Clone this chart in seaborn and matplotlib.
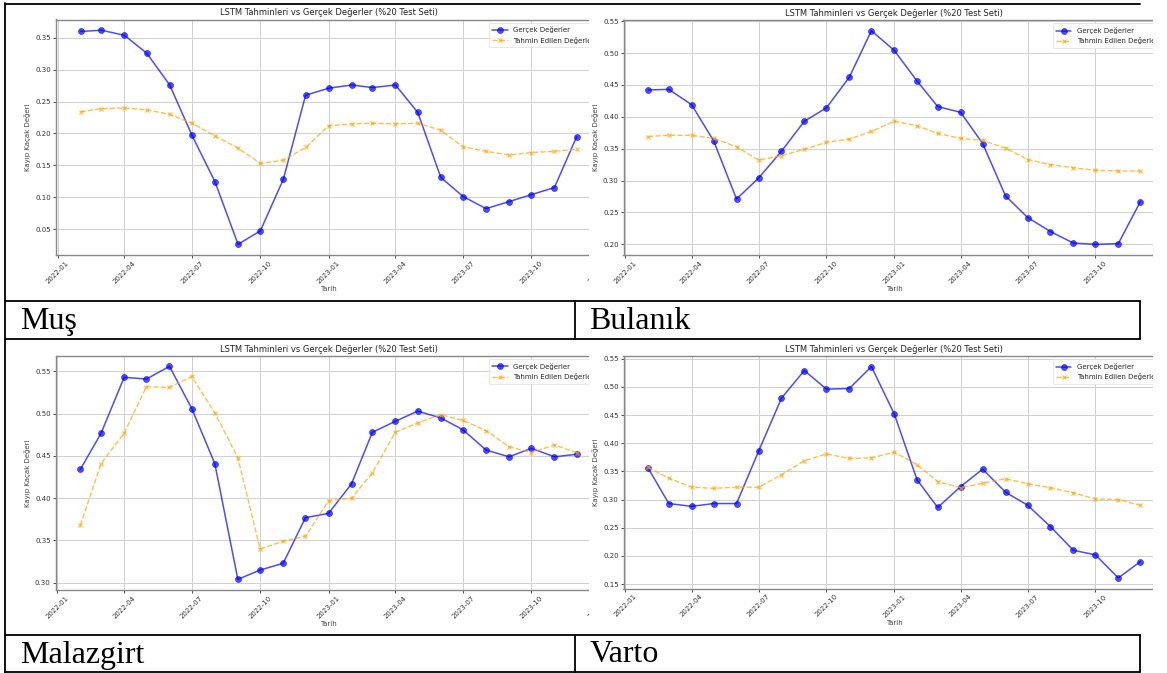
import pandas as pd
import matplotlib
matplotlib.use("Agg")
import matplotlib.pyplot as plt
import matplotlib.dates as mdates
from matplotlib.patches import Rectangle
from matplotlib.lines import Line2D
import seaborn as sns

# ---- veriler ----
tarihler = pd.date_range("2022-02-01", "2023-12-01", freq="MS")

mus_gercek = [0.360, 0.362, 0.354, 0.326, 0.276, 0.197, 0.124, 0.026, 0.047, 0.128, 0.260, 0.271,
              0.276, 0.272, 0.276, 0.233, 0.131, 0.101, 0.082, 0.093, 0.104, 0.115, 0.195]
mus_tahmin = [0.234, 0.239, 0.240, 0.237, 0.230, 0.216, 0.196, 0.177, 0.153, 0.158, 0.178, 0.212,
              0.215, 0.216, 0.215, 0.216, 0.205, 0.179, 0.172, 0.166, 0.170, 0.172, 0.175]

bulanik_gercek = [0.442, 0.443, 0.419, 0.362, 0.271, 0.304, 0.346, 0.393, 0.414, 0.462, 0.535, 0.504,
                  0.456, 0.416, 0.407, 0.358, 0.276, 0.242, 0.220, 0.202, 0.200, 0.201, 0.267]
bulanik_tahmin = [0.369, 0.371, 0.371, 0.366, 0.353, 0.332, 0.339, 0.349, 0.360, 0.365, 0.377, 0.393,
                  0.386, 0.374, 0.366, 0.363, 0.351, 0.333, 0.325, 0.320, 0.316, 0.315, 0.315]

malazgirt_gercek = [0.434, 0.477, 0.543, 0.541, 0.556, 0.506, 0.441, 0.304, 0.315, 0.323, 0.377, 0.382,
                    0.417, 0.478, 0.491, 0.503, 0.495, 0.481, 0.457, 0.449, 0.459, 0.449, 0.452]
malazgirt_tahmin = [0.368, 0.441, 0.477, 0.532, 0.531, 0.544, 0.501, 0.448, 0.340, 0.349, 0.355, 0.397,
                    0.400, 0.430, 0.478, 0.489, 0.499, 0.492, 0.480, 0.461, 0.454, 0.463, 0.454]

varto_gercek = [0.356, 0.293, 0.288, 0.293, 0.293, 0.386, 0.480, 0.529, 0.496, 0.497, 0.536, 0.452,
                0.335, 0.286, 0.323, 0.354, 0.313, 0.290, 0.252, 0.210, 0.202, 0.161, 0.190]
varto_tahmin = [0.357, 0.338, 0.322, 0.320, 0.322, 0.322, 0.344, 0.369, 0.381, 0.373, 0.374, 0.384,
                0.362, 0.332, 0.321, 0.329, 0.337, 0.328, 0.321, 0.312, 0.301, 0.300, 0.290]

ilceler = ["Muş", "Bulanık", "Malazgirt", "Varto"]

W, H = 1167, 673


def kutu(l, t, r, b):
    # piksel -> figür oranı
    return [l / W, 1 - b / H, (r - l) / W, (b - t) / H]


def yatay(f, x1, x2, y, lw=1.3):
    f.add_artist(Line2D([x1 / W, x2 / W], [1 - y / H, 1 - y / H], transform=f.transFigure,
                        color="black", lw=lw, zorder=20))


def dikey(f, x, y1, y2, lw=1.3):
    f.add_artist(Line2D([x / W, x / W], [1 - y1 / H, 1 - y2 / H], transform=f.transFigure,
                        color="black", lw=lw, zorder=20))


sns.set_style("ticks", {"axes.grid": True})
plt.rcParams['font.family'] = ['DejaVu Sans']

fig = plt.figure(figsize=(W / 100, H / 100), dpi=100)

# (gerçek, tahmin, konum, zorder, sağ sütun mu)
paneller = [
    (mus_gercek, mus_tahmin, kutu(55.8, 19.5, 601.5, 255), 1, False),
    (bulanik_gercek, bulanik_tahmin, kutu(623.5, 20, 1165, 255), 3, True),
    (malazgirt_gercek, malazgirt_tahmin, kutu(55.5, 355.7, 601.5, 590), 1, False),
    (varto_gercek, varto_tahmin, kutu(623.5, 356, 1165, 588.5), 3, True),
]

for gercek, tahmin, pos, z, sag in paneller:
    ax = fig.add_axes(pos)
    ax.set_zorder(z)
    sns.lineplot(x=tarihler, y=gercek, ax=ax, color="blue", marker="o", markersize=4.3,
                 markeredgecolor="blue", markeredgewidth=0.5, lw=1.1, alpha=0.7,
                 label="Gerçek Değerler")
    sns.lineplot(x=tarihler, y=tahmin, ax=ax, color="orange", marker="x", markersize=3.4,
                 markeredgecolor="orange", markeredgewidth=0.9, lw=1.0, alpha=0.7,
                 linestyle="--", label="Tahmin Edilen Değerler")
    ax.set_title("LSTM Tahminleri vs Gerçek Değerler (%20 Test Seti)", fontsize=6, pad=3, color="#222222")
    ax.set_xlabel("Tarih", fontsize=5, labelpad=1, color="#444444")
    ax.set_ylabel("Kayıp Kaçak Değeri", fontsize=5, labelpad=3, color="#444444")
    ax.xaxis.set_major_locator(mdates.MonthLocator(bymonth=[1, 4, 7, 10]))
    ax.xaxis.set_major_formatter(mdates.DateFormatter("%Y-%m"))
    ax.tick_params(axis="both", labelsize=5, length=2, width=0.6, pad=1.5, colors="#333333")
    fig.canvas.draw()
    for lab in ax.get_xticklabels():
        lab.set_rotation(45)
        if sag and lab.get_text().startswith("2024"):
            lab.set_visible(False)
    ax.grid(True, color="#d0d0d0", lw=0.7)
    for s in ax.spines.values():
        s.set_color("#888888")
        s.set_linewidth(1.0)
    leg = ax.legend(loc="upper right", fontsize=5, frameon=True, borderpad=0.5, handlelength=2.2)
    leg.get_frame().set_edgecolor("#dddddd")
    leg.get_frame().set_linewidth(0.6)

# sağa taşan kısımları kırp
fig.add_artist(Rectangle((589 / W, 0), (W - 589) / W, 1, transform=fig.transFigure,
                         facecolor="white", edgecolor="none", zorder=2))
fig.add_artist(Rectangle((1153 / W, 0), (W - 1153) / W, 1, transform=fig.transFigure,
                         facecolor="white", edgecolor="none", zorder=10))

# tablo çizgileri
yatay(fig, 5, 1140, 3.5)
dikey(fig, 5, 3, 672.5)
for y in [301, 339, 635, 672]:
    yatay(fig, 5, 1140, y)
for y1, y2 in [(301, 339), (635, 672)]:
    dikey(fig, 575, y1, y2)
    dikey(fig, 1140, y1, y2)

# başlıklar
serif = ["Liberation Serif", "DejaVu Serif"]
for metin, x, y in zip(ilceler, [20, 589, 20, 590], [321, 321, 655, 655]):
    fig.text(x / W, 1 - y / H, metin, family=serif, fontsize=23, va="center",
             color="black", zorder=21)

fig.savefig("out.png", dpi=100)
plt.close(fig)
